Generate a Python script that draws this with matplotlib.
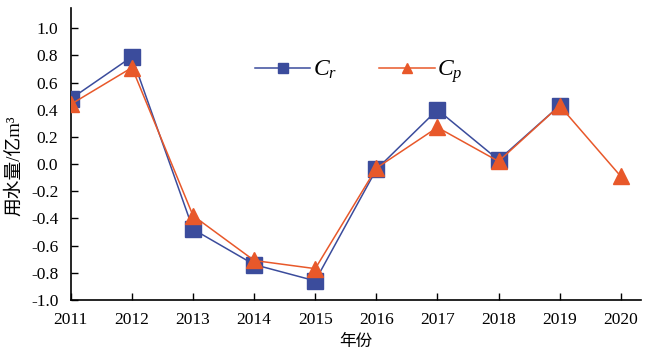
import matplotlib
matplotlib.use('Agg')
import matplotlib.pyplot as plt
from matplotlib.lines import Line2D

plt.rcParams['font.family'] = ['Liberation Serif', 'Noto Sans CJK SC']
plt.rcParams['mathtext.fontset'] = 'custom'
plt.rcParams['mathtext.it'] = 'Liberation Serif:italic'
plt.rcParams['mathtext.rm'] = 'Liberation Serif'

# 数据
years = [2011, 2012, 2013, 2014, 2015, 2016, 2017, 2018, 2019, 2020]
cr = [0.48, 0.79, -0.48, -0.74, -0.86, -0.04, 0.40, 0.03, 0.43]
cp = [0.44, 0.71, -0.38, -0.71, -0.77, -0.03, 0.27, 0.02, 0.43, -0.09]
yticks = [-1.0, -0.8, -0.6, -0.4, -0.2, 0.0, 0.2, 0.4, 0.6, 0.8, 1.0]

blue = '#3b4c9c'
orange = '#e8582a'

fig = plt.figure(figsize=(6.5, 3.57), dpi=100)
ax = fig.add_axes([0.109, 0.160, 0.877, 0.818])

ax.plot(years[:len(cr)], cr, color=blue, lw=1.1, marker='s', ms=12, zorder=3)
ax.plot(years, cp, color=orange, lw=1.1, marker='^', ms=12, zorder=4)

ax.set_xlim(2011, 2020.33)
ax.set_ylim(-1.0, 1.15)
ax.set_xticks(years)
ax.set_yticks(yticks)
ax.set_yticklabels([f'{v:.1f}' for v in yticks])
ax.tick_params(direction='in', length=5, width=1, labelsize=12.5)
ax.tick_params(axis='x', pad=9)
ax.tick_params(axis='y', pad=9)
for s in ['top', 'right']:
    ax.spines[s].set_visible(False)
for s in ['left', 'bottom']:
    ax.spines[s].set_linewidth(1.2)

ax.set_xlabel('年份', family='Noto Sans CJK SC', fontsize=12, labelpad=3)
ax.set_ylabel('用水量/亿m³', fontsize=13.5)
ax.yaxis.set_label_coords(-0.083, 0.46)

handles = [Line2D([], [], color=blue, lw=1.1, marker='s', ms=6.5),
           Line2D([], [], color=orange, lw=1.1, marker='^', ms=6.5)]
ax.legend(handles, ['$C_r$', '$C_p$'], loc='center', bbox_to_anchor=(0.505, 0.78),
          ncol=2, frameon=False, fontsize=17, handlelength=2.35,
          handletextpad=0.1, columnspacing=1.8)

fig.savefig('out.png', dpi=100)
